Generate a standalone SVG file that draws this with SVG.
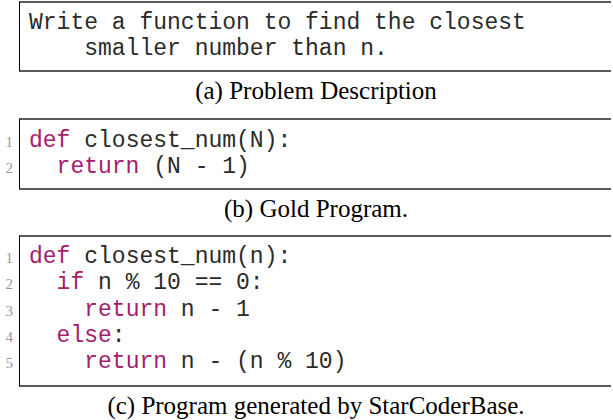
<svg xmlns="http://www.w3.org/2000/svg" width="613" height="420" viewBox="0 0 613 420">
<style>
.code{font-family:"Liberation Mono","Courier New",monospace;font-size:23px;fill:#2b2b2b;white-space:pre}
.kw{fill:#a4206c}
.ln{font-family:"Liberation Serif","Times New Roman",serif;font-size:15px;fill:#9a9a9a;text-anchor:end}
.cap{font-family:"Liberation Serif","Times New Roman",serif;font-size:25px;fill:#000;text-anchor:middle}
.rule{stroke:#5a5a5a;stroke-width:2;fill:none}
.side{stroke:#000;stroke-width:1;fill:none}
</style>
<rect width="613" height="420" fill="#fff"/>
<g id="box-a">
<line class="rule" x1="19" y1="2" x2="611" y2="2"/>
<line class="rule" x1="19" y1="71" x2="611" y2="71"/>
<line class="side" x1="19.5" y1="2" x2="19.5" y2="71"/>
<text class="code" x="29" y="28.5" xml:space="preserve">Write a function to find the closest</text>
<text class="code" x="29" y="55" xml:space="preserve">    smaller number than n.</text>
</g>
<g id="caption-a"><text class="cap" x="316" y="99">(a) Problem Description</text></g>
<g id="box-b">
<line class="rule" x1="19" y1="119" x2="611" y2="119"/>
<line class="rule" x1="19" y1="189" x2="611" y2="189"/>
<line class="side" x1="19.5" y1="119" x2="19.5" y2="189"/>
<text class="ln" x="13" y="147">1</text>
<text class="ln" x="13" y="173">2</text>
<text class="code" x="29" y="147" xml:space="preserve"><tspan class="kw">def</tspan> closest_num(N):</text>
<text class="code" x="29" y="173" xml:space="preserve">  <tspan class="kw">return</tspan> (N - 1)</text>
</g>
<g id="caption-b"><text class="cap" x="316" y="217">(b) Gold Program.</text></g>
<g id="box-c">
<line class="rule" x1="19" y1="236" x2="611" y2="236"/>
<line class="rule" x1="19" y1="386" x2="611" y2="386"/>
<line class="side" x1="19.5" y1="236" x2="19.5" y2="386"/>
<text class="ln" x="13" y="263">1</text>
<text class="ln" x="13" y="289">2</text>
<text class="ln" x="13" y="315.5">3</text>
<text class="ln" x="13" y="342">4</text>
<text class="ln" x="13" y="368">5</text>
<text class="code" x="29" y="263" xml:space="preserve"><tspan class="kw">def</tspan> closest_num(n):</text>
<text class="code" x="29" y="289" xml:space="preserve">  <tspan class="kw">if</tspan> n % 10 == 0:</text>
<text class="code" x="29" y="315.5" xml:space="preserve">    <tspan class="kw">return</tspan> n - 1</text>
<text class="code" x="29" y="342" xml:space="preserve">  <tspan class="kw">else</tspan>:</text>
<text class="code" x="29" y="368" xml:space="preserve">    <tspan class="kw">return</tspan> n - (n % 10)</text>
</g>
<g id="caption-c"><text class="cap" x="316" y="414">(c) Program generated by StarCoderBase.</text></g>
</svg>
